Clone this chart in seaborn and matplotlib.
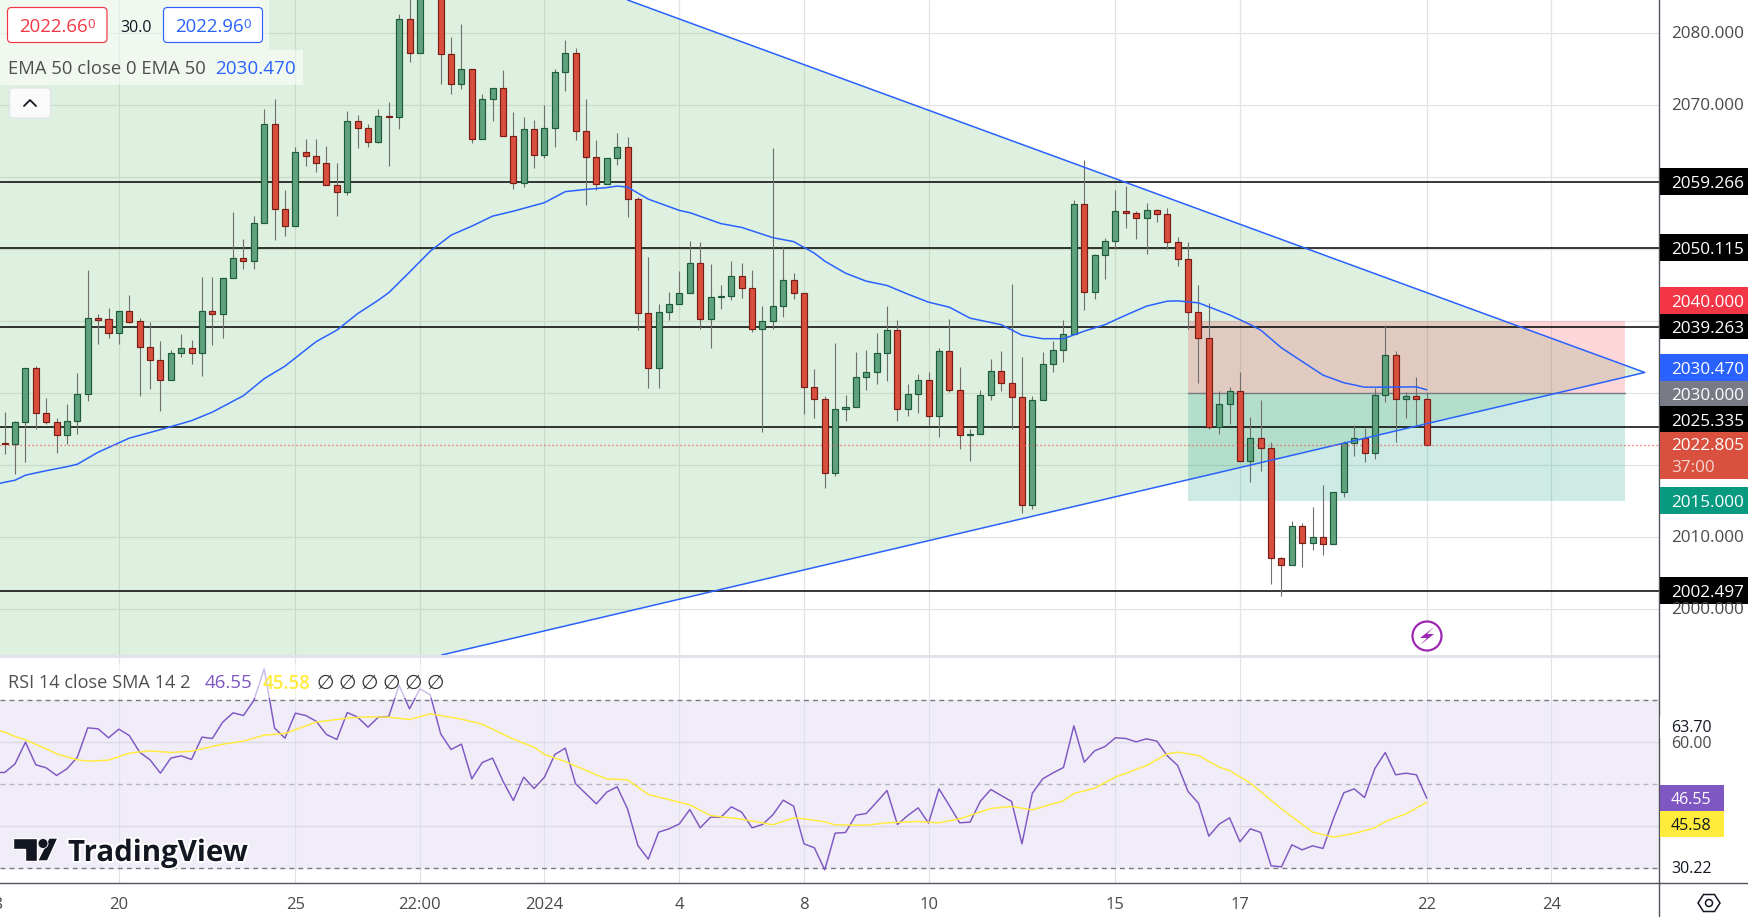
import numpy as np
import pandas as pd
import seaborn as sns
import matplotlib.pyplot as plt
from matplotlib.patches import Rectangle, FancyBboxPatch, Polygon, Circle
from matplotlib.lines import Line2D
from matplotlib.transforms import IdentityTransform
import matplotlib.patheffects as pe

# candles, one row per bar (two bars around the 22:00 tick run off the top of the chart)
open_ = [2023.10, 2022.96, 2025.94, 2033.57, 2027.19, 2026.07, 2024.13, 2026.21, 2029.96, 2040.42,
         2040.24, 2038.30, 2041.35, 2039.96, 2036.35, 2034.68, 2031.77, 2035.52, 2036.21, 2035.52,
         2041.35, 2041.02, 2045.94, 2048.71, 2048.30, 2053.57, 2067.32, 2055.52, 2053.16, 2063.44,
         2062.88, 2061.91, 2058.85, 2057.88, 2067.74, 2066.77, 2064.82, 2068.44, 2068.30, 2081.91,
         2077.19, 2089.00, 2090.00, 2077.05, 2072.96, 2074.96, 2065.24, 2070.80, 2072.32, 2065.66,
         2059.21, 2066.63, 2063.02, 2066.77, 2074.55, 2077.19, 2066.35, 2062.74, 2058.99, 2062.60,
         2064.13, 2056.91, 2041.07, 2033.44, 2041.21, 2042.32, 2043.85, 2048.02, 2040.24, 2043.30,
         2043.48, 2046.21, 2044.55, 2038.85, 2039.96, 2042.05, 2045.66, 2043.85, 2030.80, 2029.13,
         2018.99, 2027.74, 2028.02, 2032.32, 2032.88, 2035.52, 2038.71, 2027.74, 2029.96, 2031.77,
         2026.77, 2035.80, 2030.38, 2024.13, 2024.27, 2029.69, 2033.02, 2031.35, 2029.41, 2014.41,
         2028.99, 2033.99, 2036.07, 2038.16, 2056.21, 2043.99, 2049.13, 2051.07, 2055.28, 2055.05,
         2054.27, 2055.38, 2054.82, 2050.94, 2048.57, 2041.30, 2037.60, 2025.32, 2028.44, 2030.24,
         2020.60, 2023.85, 2022.46, 2007.05, 2006.21, 2011.63, 2009.27, 2010.10, 2009.07, 2016.35,
         2023.06, 2023.85, 2021.63, 2029.82, 2035.24, 2029.13, 2029.55, 2029.13]
high = [2027.37, 2026.21, 2033.57, 2033.76, 2029.31, 2026.53, 2028.52, 2032.78, 2047.09, 2040.94,
        2041.77, 2041.39, 2043.62, 2040.38, 2039.87, 2037.23, 2035.94, 2038.20, 2037.37, 2046.12,
        2046.12, 2045.98, 2055.14, 2051.39, 2054.59, 2069.45, 2070.84, 2058.20, 2064.17, 2065.28,
        2065.28, 2064.31, 2061.95, 2069.17, 2068.62, 2067.37, 2069.45, 2070.42, 2082.60, 2086.00,
        2092.00, 2094.00, 2093.00, 2079.45, 2081.26, 2075.00, 2071.53, 2072.32, 2074.87, 2069.03,
        2068.34, 2067.92, 2070.01, 2074.96, 2079.03, 2077.92, 2070.80, 2065.14, 2062.60, 2066.07,
        2065.56, 2057.23, 2048.89, 2042.41, 2044.03, 2046.95, 2051.12, 2050.98, 2047.88, 2045.01,
        2048.34, 2048.06, 2047.09, 2042.09, 2064.03, 2050.42, 2046.67, 2043.90, 2033.34, 2029.55,
        2036.95, 2029.82, 2035.70, 2035.98, 2038.34, 2042.09, 2040.14, 2031.26, 2032.64, 2032.92,
        2036.26, 2040.28, 2033.62, 2025.01, 2030.42, 2034.73, 2035.84, 2045.10, 2035.01, 2029.55,
        2035.70, 2037.23, 2040.14, 2056.81, 2062.37, 2049.27, 2051.49, 2058.16, 2058.76, 2055.24,
        2056.35, 2055.52, 2055.66, 2051.63, 2050.98, 2045.01, 2042.55, 2030.28, 2030.84, 2032.92,
        2026.67, 2029.03, 2023.20, 2007.23, 2012.23, 2011.91, 2014.17, 2017.23, 2016.35, 2023.34,
        2025.52, 2025.19, 2030.74, 2039.45, 2035.80, 2030.10, 2032.23, 2030.19]
low = [2021.58, 2018.80, 2020.46, 2025.10, 2025.74, 2021.71, 2022.92, 2024.35, 2028.94, 2036.85,
       2037.69, 2036.85, 2039.77, 2029.63, 2030.56, 2027.55, 2031.77, 2035.05, 2034.08, 2032.41,
       2036.71, 2037.69, 2045.94, 2047.27, 2047.27, 2053.57, 2051.30, 2051.85, 2053.16, 2061.57,
       2060.70, 2058.85, 2054.63, 2057.55, 2064.08, 2064.21, 2064.69, 2061.57, 2066.67, 2076.02,
       2077.19, 2086.00, 2072.96, 2071.57, 2072.23, 2064.77, 2065.24, 2067.78, 2065.66, 2058.38,
       2058.66, 2061.30, 2062.60, 2064.21, 2071.99, 2065.10, 2056.07, 2058.16, 2058.99, 2061.71,
       2054.49, 2038.80, 2030.74, 2030.74, 2040.14, 2042.32, 2043.85, 2038.94, 2036.30, 2041.71,
       2042.96, 2043.24, 2038.52, 2024.63, 2038.94, 2040.60, 2043.10, 2027.13, 2026.57, 2016.85,
       2018.52, 2026.16, 2028.02, 2030.42, 2031.26, 2031.67, 2026.16, 2026.85, 2027.23, 2025.56,
       2023.94, 2030.19, 2022.27, 2020.60, 2024.27, 2028.99, 2030.28, 2025.05, 2013.34, 2013.94,
       2028.99, 2032.92, 2034.31, 2038.16, 2041.53, 2043.10, 2045.88, 2049.96, 2052.96, 2051.44,
       2049.35, 2053.80, 2050.05, 2047.69, 2038.85, 2031.44, 2025.10, 2024.31, 2025.70, 2020.60,
       2017.69, 2019.17, 2003.52, 2001.85, 2006.21, 2005.88, 2008.24, 2007.51, 2009.07, 2015.60,
       2021.30, 2020.46, 2020.88, 2028.80, 2023.24, 2026.57, 2025.56, 2022.80]
close = [2022.96, 2025.94, 2033.57, 2027.19, 2026.07, 2024.13, 2026.21, 2029.96, 2040.38, 2040.14,
         2038.30, 2041.35, 2039.91, 2036.35, 2034.63, 2031.77, 2035.52, 2036.21, 2035.52, 2041.35,
         2041.02, 2045.94, 2048.71, 2048.30, 2053.57, 2067.32, 2055.52, 2053.16, 2063.44, 2062.88,
         2061.91, 2058.85, 2057.88, 2067.74, 2066.77, 2064.82, 2068.44, 2068.30, 2081.91, 2077.19,
         2088.00, 2091.00, 2077.05, 2072.96, 2074.96, 2065.24, 2070.80, 2072.32, 2065.66, 2059.21,
         2066.63, 2063.02, 2066.77, 2074.55, 2077.19, 2066.35, 2062.74, 2058.99, 2062.60, 2064.13,
         2056.91, 2041.07, 2033.44, 2041.21, 2042.32, 2043.85, 2048.02, 2040.24, 2043.30, 2043.48,
         2046.21, 2044.55, 2038.85, 2039.96, 2042.05, 2045.66, 2043.85, 2030.80, 2029.13, 2018.99,
         2027.74, 2028.02, 2032.32, 2032.88, 2035.52, 2038.71, 2027.74, 2029.96, 2031.77, 2026.77,
         2035.80, 2030.38, 2024.13, 2024.27, 2029.69, 2033.02, 2031.35, 2029.41, 2014.41, 2028.99,
         2033.99, 2036.07, 2038.16, 2056.21, 2043.99, 2049.13, 2051.07, 2055.24, 2055.05, 2054.27,
         2055.38, 2054.82, 2050.94, 2048.57, 2041.30, 2037.60, 2025.32, 2028.44, 2030.24, 2020.60,
         2023.85, 2022.46, 2007.05, 2006.21, 2011.63, 2009.21, 2010.10, 2009.07, 2016.35, 2023.06,
         2023.85, 2021.63, 2029.82, 2035.24, 2029.13, 2029.55, 2029.13, 2022.805]

# EMA 50, read at a subset of bars
ema_bar = [-1, 0, 1, 2, 4, 6, 7, 9, 12, 15, 18, 20, 23, 24, 25, 27, 30, 32, 34, 36, 37, 39, 41, 43, 45, 47, 49,
           52, 54, 56, 58, 59, 60, 62, 65, 66, 69, 71, 74, 76, 78, 79, 81, 83, 85, 87, 89, 91, 93, 96, 98,
           100, 102, 104, 106, 108, 110, 112, 113, 115, 118, 120, 121, 123, 127, 129, 131, 133, 136, 137]
ema_val = [2017.30, 2017.64, 2017.92, 2018.62, 2019.24, 2019.80, 2020.14, 2021.81, 2023.76, 2024.94, 2026.19,
           2027.37, 2029.66, 2030.84, 2032.02, 2033.76, 2037.16, 2038.76, 2041.05, 2042.92, 2043.96,
           2046.81, 2049.73, 2051.95, 2053.20, 2054.59, 2055.28, 2056.46, 2057.99, 2058.30, 2058.55,
           2058.76, 2058.62, 2056.95, 2055.38, 2055.07, 2053.55, 2053.02, 2051.60, 2051.05, 2049.45,
           2048.34, 2046.67, 2045.56, 2044.96, 2043.76, 2042.64, 2041.95, 2040.42, 2039.52, 2038.06,
           2037.57, 2037.57, 2038.62, 2039.52, 2040.84, 2042.09, 2042.78, 2042.82, 2042.55, 2040.88,
           2039.52, 2038.76, 2036.30, 2032.51, 2031.46, 2030.84, 2030.84, 2030.88, 2030.47]

# RSI from the bar left of the frame up to the last bar
rsi_val = [52.70, 52.69, 54.76, 59.91, 54.52, 53.80, 51.98, 53.57, 56.34, 63.33, 63.09,
           60.95, 63.01, 61.50, 57.53, 55.71, 52.53, 56.11, 56.66, 55.79, 61.11,
           60.79, 64.68, 66.90, 66.26, 69.84, 77.37, 63.25, 60.87, 66.82, 66.26,
           64.91, 61.74, 60.55, 66.98, 65.87, 63.49, 65.87, 66.03, 73.41, 67.85,
           72.61, 71.18, 61.90, 58.17, 59.44, 51.18, 55.07, 56.11, 50.63, 46.03,
           51.58, 48.88, 51.58, 56.98, 58.49, 50.00, 47.61, 45.23, 48.01, 49.28,
           44.04, 35.31, 32.06, 38.49, 39.28, 40.47, 43.88, 39.52, 42.06, 42.06,
           44.52, 43.25, 39.52, 40.31, 42.61, 46.10, 44.68, 35.71, 34.76, 29.52,
           38.25, 38.41, 42.53, 42.93, 45.63, 48.41, 40.31, 42.45, 44.28, 40.63,
           48.80, 44.83, 40.71, 40.87, 45.87, 48.64, 47.21, 45.79, 35.71, 47.77,
           51.18, 52.61, 53.88, 63.80, 55.15, 57.85, 58.88, 60.95, 60.79, 59.99,
           60.71, 60.15, 56.66, 54.36, 48.17, 45.39, 37.53, 40.39, 41.90, 36.18,
           39.28, 38.41, 30.47, 30.23, 35.47, 34.28, 35.23, 34.60, 41.66, 47.85,
           48.80, 46.74, 53.65, 57.45, 52.14, 52.53, 52.14, 46.55]

sma_bar = [-1, 0, 1, 2, 4, 5, 7, 8, 10, 12, 14, 16, 18, 21, 23, 25, 27, 30, 33, 35, 37, 39, 41, 44, 46, 49, 51,
           52, 54, 57, 58, 60, 62, 65, 66, 68, 71, 74, 76, 77, 79, 80, 83, 85, 88, 90, 92, 95, 97, 99, 102,
           103, 105, 107, 110, 112, 113, 115, 117, 118, 120, 123, 126, 128, 130, 132, 133, 135, 137]
sma_val = [63.00, 62.30, 61.26, 60.47, 58.33, 57.14, 55.71, 55.39, 55.63, 57.30, 57.85, 57.45, 57.77, 59.44,
           60.15, 61.58, 61.98, 64.68, 65.63, 65.95, 65.87, 65.31, 66.66, 65.39, 64.20, 60.63, 58.72,
           56.98, 55.31, 52.14, 51.18, 50.95, 47.45, 45.63, 44.99, 42.45, 41.58, 40.23, 41.90, 41.66,
           40.95, 40.23, 40.15, 40.71, 41.03, 40.71, 41.66, 44.12, 44.60, 43.80, 45.95, 47.69, 48.96,
           51.58, 54.36, 57.14, 57.53, 56.74, 53.96, 53.17, 50.15, 44.04, 38.49, 37.30, 38.17, 39.52,
           41.03, 42.85, 45.58]

level_prices = [2059.266, 2050.115, 2039.263, 2025.335, 2002.497]
last_price = 2022.805
position_top, position_mid, position_bottom = 2040.0, 2030.0, 2015.0
position_bars = (114, 156.1)
triangle_bars = [60, 158, 42.1]
triangle_prices = [2084.6, 2032.88, 1993.65]

date_bars = [11, 28, 40, 52, 65, 77, 89, 107, 119, 137, 149]
date_labels = ['20', '25', '22:00', '2024', '4', '8', '10', '15', '17', '22', '24']
price_grid = [2000, 2010, 2020, 2030, 2040, 2050, 2060, 2070, 2080]
rsi_grid = [40, 60]
rsi_bands = [30, 50, 70]

WIDTH, HEIGHT = 1748, 917
FONT = 'Open Sans'
BLUE = '#2962ff'
PURPLE = '#7e57c2'
YELLOW = '#ffeb3b'

sns.set_style('white')
plt.rcParams['font.family'] = [FONT, 'DejaVu Sans']

fig = plt.figure(figsize=(WIDTH / 100, HEIGHT / 100), dpi=100)
ax = fig.add_axes([0, (HEIGHT - 655) / HEIGHT, 1659 / WIDTH, 655 / HEIGHT])
ax_rsi = fig.add_axes([0, (HEIGHT - 883) / HEIGHT, 1659 / WIDTH, 226 / HEIGHT])

bars = pd.DataFrame({'bar': np.arange(len(close)), 'open': open_, 'high': high, 'low': low, 'close': close})
bars['up'] = bars['close'] >= bars['open']

# price panel
for p in price_grid:
    ax.axhline(p, color='#e3e5e3', lw=0.9, zorder=0)
for b in date_bars:
    ax.axvline(b, color='#e3e5e3', lw=0.9, zorder=0)
    ax_rsi.axvline(b, color='#e0e0e6', lw=0.8, zorder=1)

left_edge = -0.453
ax.add_patch(Polygon([(left_edge, triangle_prices[0]), (triangle_bars[0], triangle_prices[0]),
                      (triangle_bars[1], triangle_prices[1]), (triangle_bars[2], triangle_prices[2]),
                      (left_edge, triangle_prices[2])],
                     closed=True, fc=(0.298, 0.686, 0.314, 0.18), ec='none', zorder=1))
ax.add_patch(Rectangle((position_bars[0], position_mid), position_bars[1] - position_bars[0],
                       position_top - position_mid, fc=(0.949, 0.212, 0.271, 0.2), ec='none', zorder=1.5))
ax.add_patch(Rectangle((position_bars[0], position_bottom), position_bars[1] - position_bars[0],
                       position_mid - position_bottom, fc=(0.031, 0.6, 0.506, 0.2), ec='none', zorder=1.5))
ax.plot(position_bars, [position_mid, position_mid], color='#787b86', lw=1.0, zorder=1.6)

for p in level_prices:
    ax.axhline(p, color='black', lw=1.1, zorder=2)

ax.vlines(bars['bar'], bars['low'], bars['high'], color='#6f6f6f', lw=0.8, zorder=3)
for up, fill, edge in [(True, '#60a27e', '#1e5b3e'), (False, '#d84f3d', '#7a1d17')]:
    part = bars[bars['up'] == up]
    ax.bar(part['bar'], (part['close'] - part['open']).abs(), bottom=part[['open', 'close']].min(axis=1),
           width=0.58, color=fill, edgecolor=edge, linewidth=0.85, zorder=3.2)

ax.plot([triangle_bars[0], triangle_bars[1], triangle_bars[2]], triangle_prices, color=BLUE, lw=1.1, zorder=4)
sns.lineplot(x=ema_bar, y=ema_val, ax=ax, color=BLUE, lw=1.1, zorder=4, estimator=None)
ax.axhline(last_price, color='#ef5350', lw=0.9, ls=(0, (1, 2.2)), zorder=4)

ax.set_xlim(left_edge, 159.37)
ax.set_ylim(1993.65, 2084.6)
ax.set_axis_off()

# rsi panel
ax_rsi.axhspan(rsi_bands[0], rsi_bands[2], color='#f0ecf8', zorder=0)
for r in rsi_grid:
    ax_rsi.axhline(r, color='#dcd9e4', lw=1.0, zorder=1)
ax_rsi.axhline(rsi_bands[2], color='#787b86', lw=1.0, ls=(0, (3.5, 3)), zorder=1)
ax_rsi.axhline(rsi_bands[1], color='#b5b3bd', lw=1.0, ls=(0, (3.5, 3)), zorder=1)
ax_rsi.axhline(rsi_bands[0], color='#787b86', lw=1.0, ls=(0, (3.5, 3)), zorder=1)
sns.lineplot(x=np.arange(-1, len(close)), y=rsi_val, ax=ax_rsi, color=PURPLE, lw=1.05, zorder=3, estimator=None)
sns.lineplot(x=sma_bar, y=sma_val, ax=ax_rsi, color=YELLOW, lw=1.05, zorder=3, estimator=None)
ax_rsi.set_ylabel('')
ax_rsi.set_xlabel('')
ax_rsi.set_yticks([])
ax_rsi.set_xticks(date_bars)
ax_rsi.set_xticklabels(date_labels, fontsize=12, color='#4a4a4a')
ax_rsi.tick_params(axis='x', length=0, pad=10)
ax_rsi.set_xlim(left_edge, 159.37)
ax_rsi.set_ylim(26.38, 80.19)
for side in ['top', 'left', 'right', 'bottom']:
    ax_rsi.spines[side].set_visible(False)
ax_rsi.patch.set_alpha(0)

# everything below is placed on the canvas in pixels, y counted from the top
px = IdentityTransform()


def box(x0, y0, x1, y1, color, alpha=1.0, z=5):
    fig.add_artist(Rectangle((x0, HEIGHT - y1), x1 - x0, y1 - y0, transform=px, fc=color, ec='none',
                             alpha=alpha, zorder=z))


def rounded(x0, y0, x1, y1, edge, fill='white', r=4):
    fig.add_artist(FancyBboxPatch((x0 + r, HEIGHT - y1 + r), x1 - x0 - 2 * r, y1 - y0 - 2 * r,
                                  boxstyle=f'round,pad={r},rounding_size={r}', transform=px,
                                  fc=fill, ec=edge, lw=0.85, zorder=7))


def label(x, y, s, color='#131722', size=12.3, ha='left', z=8, **kw):
    return fig.text(x, HEIGHT - y, s, transform=px, color=color, fontsize=size, ha=ha, va='center_baseline',
                    zorder=z, **kw)


fig.add_artist(Line2D([0, 1659], [HEIGHT - 656, HEIGHT - 656], transform=px, color='#e0e3eb', lw=2.2, zorder=5))
fig.add_artist(Line2D([1659, 1659], [0, HEIGHT], transform=px, color='#50535e', lw=1.0, zorder=5))
fig.add_artist(Line2D([0, WIDTH], [HEIGHT - 882.7, HEIGHT - 882.7], transform=px, color='#50535e', lw=1.0, zorder=5))

# the 18 of the date scale sits on the left edge of the frame, as in the screenshot
label(-5.7, 903, '18', color='#4a4a4a', size=12, ha='center')

# price scale
for p, y in [(2080, 32), (2070, 104), (2010, 536), (2000, 608)]:
    label(1671, y, f'{p}.000', color='#4a4a4a')

price_tags = [('2059.266', 168, 195, 'black'), ('2050.115', 234, 261, 'black'), ('2040.000', 287, 314, '#f23645'),
              ('2039.263', 314, 339, 'black'), ('2030.470', 354, 381, BLUE), ('2030.000', 381, 406, '#787b86'),
              ('2025.335', 406, 432, 'black'), ('2015.000', 487, 514, '#089981'), ('2002.497', 577, 604, 'black')]
for text, y0, y1, color in price_tags:
    box(1660, y0, WIDTH, y1, color, z=6)
    label(1671, (y0 + y1) / 2 + 0.5, text, color='white', fontweight='medium')
box(1660, 432, WIDTH, 479, '#d9503f', z=6)
label(1671, 444.5, f'{last_price:.3f}', color='white', fontweight='medium')
label(1671, 466, '37:00', color='#f6d5d0')

# rsi scale
label(1671, 742, '60.00', color='#4a4a4a', size=11.5)
box(1660, 716, 1725, 738, 'white', z=6)
label(1671, 726, '63.70', size=11.5)
label(1671, 867, '30.22', size=11.5)
box(1660, 785, 1724, 810.5, PURPLE, z=6)
label(1671, 798, f'{rsi_val[-1]:.2f}', color='white', size=11.5, fontweight='medium')
box(1660, 810.5, 1724, 837, YELLOW, z=6)
label(1671, 823.5, f'{sma_val[-1]:.2f}', size=11.5)

# top left legend
box(0, 0, 269, 49.5, 'white', alpha=0.55)
box(0, 49.5, 303, 85, 'white', alpha=0.55)
rounded(7.5, 7.5, 107, 42.5, '#f23645')
rounded(163.5, 7.5, 262.5, 42.5, BLUE)
label(19, 25.5, '2022.66', color='#f23645', size=13.4)
label(87.5, 23, '0', color='#f23645', size=9.5)
label(120, 25.5, '30.0', size=11.5)
label(175, 25.5, '2022.96', color=BLUE, size=13.4)
label(243.5, 23, '0', color=BLUE, size=9.5)
label(8, 67.5, 'EMA 50 close 0 EMA 50', color='#4f4f4f', size=13.3)
label(215.5, 67.5, '2030.470', color=BLUE, size=13.6)
rounded(9.5, 88, 50.5, 118, '#e0e3eb', fill='#fafafa', r=3)
fig.add_artist(Line2D([24, 30, 36], [HEIGHT - 106, HEIGHT - 100, HEIGHT - 106], transform=px, color='#131722',
                      lw=1.3, zorder=8))

# rsi legend
box(0, 665, 447, 698, 'white', alpha=0.6)
label(8.5, 681.5, 'RSI 14 close SMA 14 2', color='#4f4f4f', size=13.1)
label(205, 681.5, f'{rsi_val[-1]:.2f}', color=PURPLE, size=13.5)
label(262.5, 681.5, f'{sma_val[-1]:.2f}', color=YELLOW, size=13.5, fontweight='semibold')
for x in [325, 347, 369, 391, 413, 435]:
    label(x, 681.5, '∅', size=14.5, ha='center', color='#333333')

# logo
halo = [pe.withStroke(linewidth=3, foreground='white')]
label(68, 850, 'TradingView', color='#131722', size=21.2, fontweight='bold', path_effects=halo, z=9)
for pts in ([(13, 838), (36.5, 838), (36.5, 861), (25, 861), (25, 849), (13, 849)],
            [(49, 838), (58, 838), (47.5, 861), (37.5, 861)]):
    fig.add_artist(Polygon([(x, HEIGHT - y) for x, y in pts], transform=px, fc='#131722', ec='white', lw=1.0, zorder=9))
fig.add_artist(Circle((43, HEIGHT - 843.5), 5, transform=px, fc='#131722', ec='white', lw=0.6, zorder=9))

# flash icon on the last bar and settings icon
fig.add_artist(Circle((1427, HEIGHT - 636), 14.5, transform=px, fc='white', ec='#9c27b0', lw=1.6, zorder=8))
fig.add_artist(Polygon([(x, HEIGHT - y) for x, y in [(1434, 627), (1420, 638), (1427, 638), (1420, 645),
                                                     (1434, 634), (1427, 634)]],
                       transform=px, fc='#9c27b0', ec='none', zorder=9))
fig.add_artist(Polygon([(1709 + x, HEIGHT - 903 + y) for x, y in [(-11, 0), (-5.5, -8.5), (5.5, -8.5), (11, 0),
                                                                  (5.5, 8.5), (-5.5, 8.5)]],
                       transform=px, fc='white', ec='#131722', lw=1.1, zorder=8))
fig.add_artist(Circle((1709, HEIGHT - 903), 3.5, transform=px, fc='white', ec='#131722', lw=1.1, zorder=9))

fig.savefig('out.png', dpi=100)
